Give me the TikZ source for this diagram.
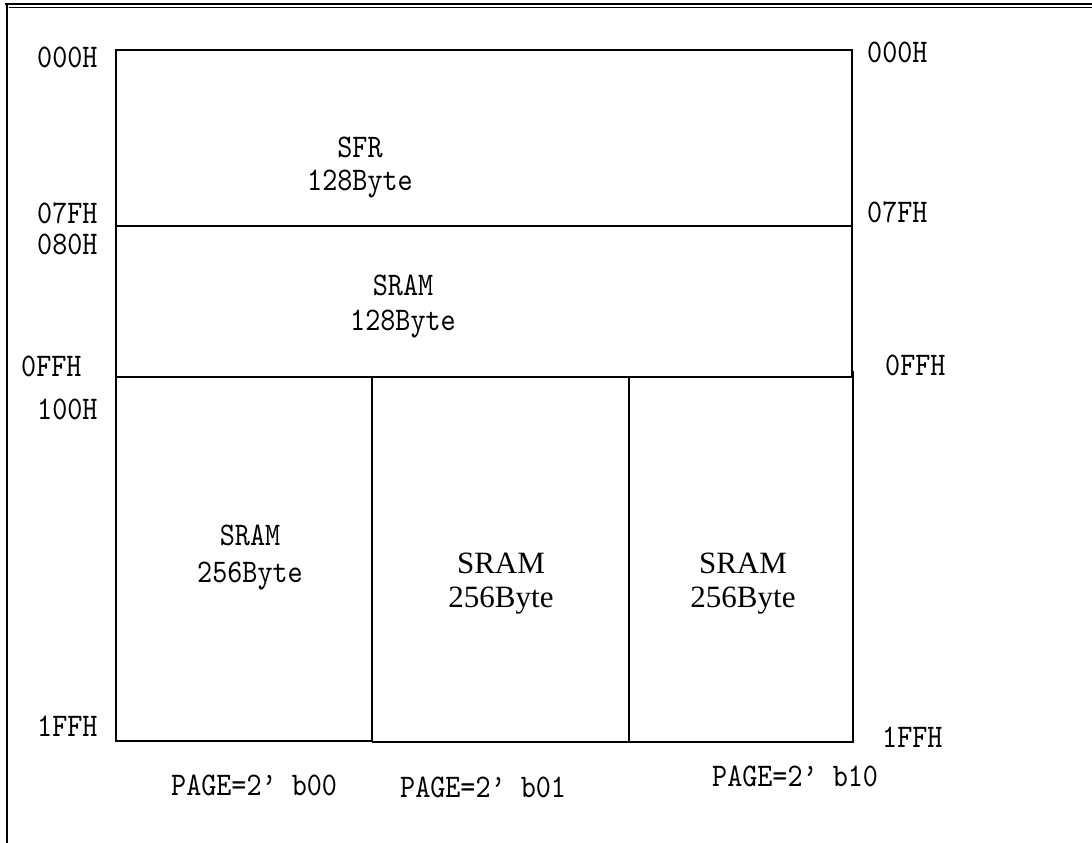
\documentclass[tikz,border=0pt]{standalone}
\usepackage{fontspec}
\setmainfont{Liberation Serif}
\newfontfamily\simfont[FakeStretch=0.87]{lmmono10-regular.otf}
\begin{document}
\begin{tikzpicture}[x=1pt,y=-1pt,
  lbl/.style={font=\simfont\fontsize{33}{40}\selectfont, inner sep=0pt, anchor=base west},
  ctr/.style={font=\simfont\fontsize{33}{40}\selectfont, inner sep=0pt, anchor=base},
  tms/.style={font=\fontsize{31}{36}\selectfont, inner sep=0pt, anchor=base},
  box/.style={line width=1.5pt},
  frm/.style={line width=2.2pt}]
\useasboundingbox (0,0) rectangle (1092,843);
\fill[white] (0,0) rectangle (1092,843);
% outer frame
\draw[frm] (5,4) -- (1092,4);
\draw[line width=1pt] (9,7.5) -- (1092,7.5);
\draw[frm] (7,3) -- (7,843);
% memory blocks
\draw[box] (116,50) rectangle (852,226);
\draw[box] (116,226) -- (116,377) -- (852,377) -- (852,226);
\draw[box] (116,377) -- (116,741) -- (372,741);
\draw[line width=2pt] (372,377) -- (372,742);
\draw[box] (372,742) -- (853,742) -- (853,371);
\draw[line width=1.8pt] (629,377) -- (629,742);
% left addresses
\node[lbl] (l000) at (37,67) {000H};
\node[lbl] (l07f) at (37,223) {07FH};
\node[lbl] (l080) at (37,254) {080H};
\node[lbl] (l0ff) at (21,376) {0FFH};
\node[lbl] (l100) at (37,419) {100H};
\node[lbl] (l1ff) at (37,736) {1FFH};
% right addresses
\node[lbl] (r000) at (867,63) {000H};
\node[lbl] (r07f) at (867,222) {07FH};
\node[lbl] (r0ff) at (885,375) {0FFH};
\node[lbl] (r1ff) at (882,747) {1FFH};
% block labels
\node[ctr] (sfr) at (360,157) {SFR};
\node[ctr] (sfrb) at (360,190) {128Byte};
\node[ctr] (sram1) at (403,295) {SRAM};
\node[ctr] (sram1b) at (403,330) {128Byte};
\node[ctr] (p0) at (250,545) {SRAM};
\node[ctr] (p0b) at (250,582) {256Byte};
\node[tms] (p1) at (501,573) {SRAM};
\node[tms] (p1b) at (501,607) {256Byte};
\node[tms] (p2) at (743,573) {SRAM};
\node[tms] (p2b) at (743,607) {256Byte};
% page labels
\node[lbl] (pg0) at (171,795) {PAGE=2’ b00};
\node[lbl] (pg1) at (400,797) {PAGE=2’ b01};
\node[lbl] (pg2) at (712,786) {PAGE=2’ b10};
\end{tikzpicture}
\end{document}
